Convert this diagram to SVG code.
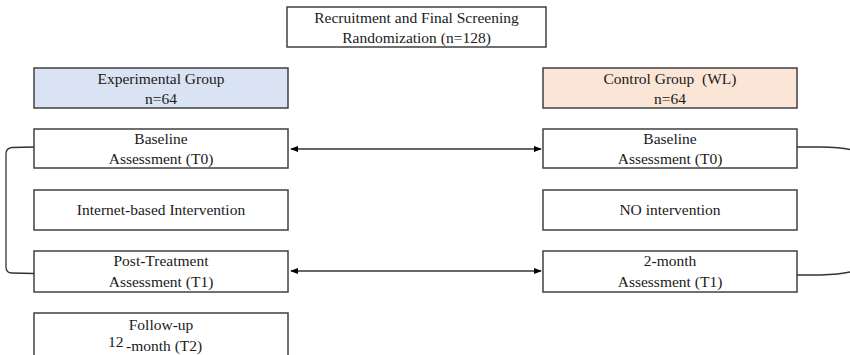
<svg xmlns="http://www.w3.org/2000/svg" width="850" height="355" viewBox="0 0 850 355">
<style>
.box{fill:#fff;stroke:#404040;stroke-width:1.5}
.t{font-family:"Liberation Serif","Times New Roman",serif;font-size:15.5px;fill:#1a1a1a;text-anchor:middle;white-space:pre}
.c{fill:none;stroke:#333;stroke-width:1.3}
</style>
<defs>
<marker id="ah" viewBox="0 0 10 10" refX="9" refY="5" markerWidth="8" markerHeight="8" orient="auto-start-reverse" markerUnits="userSpaceOnUse">
<path d="M0,1 L10,5 L0,9 z" fill="#000"/>
</marker>
</defs>
<rect width="850" height="355" fill="#fff"/>
<g id="recruit"><rect class="box" x="287" y="7" width="259" height="40"/>
<text class="t" x="416.5" y="23">Recruitment and Final Screening</text>
<text class="t" x="416.5" y="43">Randomization (n=128)</text></g>
<g id="exp"><rect class="box" x="34" y="68" width="254" height="40" style="fill:#dae3f3"/>
<text class="t" x="161" y="84">Experimental Group</text>
<text class="t" x="161" y="104">n=64</text></g>
<g id="ctrl"><rect class="box" x="543" y="68" width="254" height="40" style="fill:#fbe5d6"/>
<text class="t" x="670" y="84" xml:space="preserve">Control Group  (WL)</text>
<text class="t" x="670" y="104">n=64</text></g>
<g id="baseL"><rect class="box" x="34" y="129" width="254" height="39"/>
<text class="t" x="161" y="144">Baseline</text>
<text class="t" x="161" y="164">Assessment (T0)</text></g>
<g id="interv"><rect class="box" x="34" y="190" width="254" height="40"/>
<text class="t" x="161" y="215">Internet-based Intervention</text></g>
<g id="postL"><rect class="box" x="34" y="251" width="254" height="41"/>
<text class="t" x="161" y="266">Post-Treatment</text>
<text class="t" x="161" y="287">Assessment (T1)</text></g>
<g id="follow"><rect class="box" x="34" y="313" width="254" height="45"/>
<text class="t" x="161" y="330">Follow-up</text>
<text class="t" x="108" y="347" style="text-anchor:start">12</text>
<text class="t" x="126" y="351" style="text-anchor:start">-month (T2)</text></g>
<g id="baseR"><rect class="box" x="543" y="129" width="254" height="39"/>
<text class="t" x="670" y="144">Baseline</text>
<text class="t" x="670" y="164">Assessment (T0)</text></g>
<g id="noint"><rect class="box" x="543" y="190" width="254" height="40"/>
<text class="t" x="670" y="215">NO intervention</text></g>
<g id="twoR"><rect class="box" x="543" y="251" width="254" height="41"/>
<text class="t" x="670" y="266">2-month</text>
<text class="t" x="670" y="287">Assessment (T1)</text></g>
<g id="connectors">
<line class="c" x1="291" y1="149" x2="541" y2="149" marker-start="url(#ah)" marker-end="url(#ah)"/>
<line class="c" x1="291" y1="271" x2="541" y2="271" marker-start="url(#ah)" marker-end="url(#ah)"/>
<path class="c" d="M34,147 L12,147.5 Q6,148 6,154 L6,267 Q6,273 12,273 L34,273.5"/>
<path class="c" d="M797,147 L820,147 Q840,147.5 850,149.5"/>
<path class="c" d="M797,275 L820,275 Q840,274.5 850,272"/>
</g>
</svg>
